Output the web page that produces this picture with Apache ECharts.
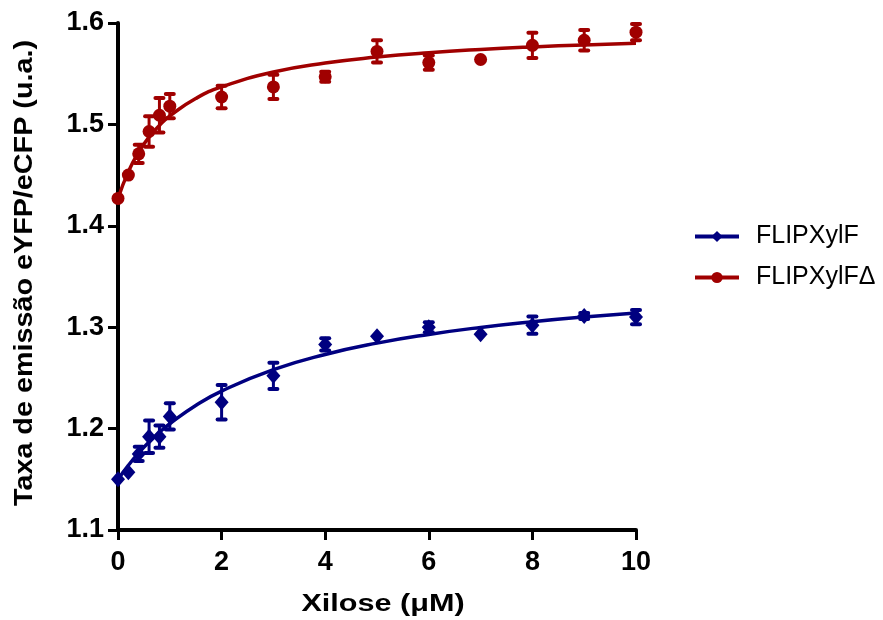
<!DOCTYPE html>
<html>
<head>
<meta charset="utf-8">
<script src="https://cdn.jsdelivr.net/npm/echarts@6/dist/echarts.min.js"></script>
<style>html,body{margin:0;padding:0;background:#fff}#c{width:883px;height:620px}</style>
</head>
<body>
<div id="c"></div>
<script>
// Measured points
var xValues = [0, 0.2, 0.4, 0.6, 0.8, 1, 2, 3, 4, 5, 6, 7, 8, 9, 10];
var blueMean = [1.150, 1.157, 1.175, 1.192, 1.192, 1.212, 1.226, 1.252, 1.283, 1.291, 1.300, 1.293, 1.302, 1.311, 1.310];
var blueErr  = [0, 0, 0.007, 0.016, 0.011, 0.013, 0.017, 0.013, 0.006, 0, 0.005, 0, 0.0085, 0.003, 0.007];
var redMean  = [1.427, 1.450, 1.471, 1.493, 1.509, 1.518, 1.527, 1.537, 1.547, 1.572, 1.561, 1.564, 1.578, 1.583, 1.591];
var redErr   = [0, 0, 0.009, 0.015, 0.017, 0.012, 0.011, 0.012, 0.005, 0.011, 0.007, 0, 0.0125, 0.010, 0.008];
// Fitted curves
var fitX    = [0, 0.2, 0.4, 0.6, 0.8, 1, 1.5, 2, 3, 4, 5, 6, 7, 8, 9, 10];
var blueFit = [1.150, 1.1638, 1.1760, 1.1867, 1.1963, 1.2048, 1.2228, 1.2370, 1.2581, 1.2731, 1.2843, 1.2929, 1.2998, 1.3054, 1.3101, 1.3140];
var redFit  = [1.427, 1.4534, 1.4728, 1.4875, 1.4990, 1.5084, 1.5255, 1.5370, 1.5516, 1.5605, 1.5664, 1.5707, 1.5739, 1.5764, 1.5784, 1.5800];
var seriesNames = ['FLIPXylF', 'FLIPXylF\u0394'];
var xTitle = 'Xilose (\u03bcM)';
var yTitle = 'Taxa de emiss\u00e3o eYFP/eCFP (u.a.)';

var BLUE = '#000080', RED = '#A00000';
var FONT = '"Liberation Sans", Arial, sans-serif';

function zip2(a, b) { return a.map(function (v, i) { return [v, b[i]]; }); }
function zip3(a, b, c) { return a.map(function (v, i) { return [v, b[i], c[i]]; }); }

function errRender(color) {
  return function (params, api) {
    var x = api.value(0), y = api.value(1), e = api.value(2);
    if (!e) return null;
    var t = api.coord([x, y + e]), b = api.coord([x, y - e]);
    var w = 4;
    var st = { stroke: color, lineWidth: 3 };
    var cap = { stroke: color, lineWidth: 4, lineCap: 'round' };
    return {
      type: 'group',
      children: [
        { type: 'line', shape: { x1: t[0], y1: t[1], x2: b[0], y2: b[1] }, style: st },
        { type: 'line', shape: { x1: t[0] - w, y1: t[1], x2: t[0] + w, y2: t[1] }, style: cap },
        { type: 'line', shape: { x1: b[0] - w, y1: b[1], x2: b[0] + w, y2: b[1] }, style: cap }
      ]
    };
  };
}

var chart = echarts.init(document.getElementById('c'));
chart.setOption({
  animation: false,
  backgroundColor: '#fff',
  grid: { left: 118, right: 247, top: 23, bottom: 90 },
  legend: {
    data: seriesNames,
    orient: 'vertical',
    left: 688, top: 219,
    itemWidth: 44, itemHeight: 14, itemGap: 16,
    lineStyle: { width: 4 },
    textStyle: { fontFamily: FONT, fontSize: 25, color: '#000', padding: [0, 0, 0, 12] }
  },
  graphic: [
    { type: 'text', x: 383, y: 605, scaleX: 1.33, silent: true,
      style: { text: xTitle, fontFamily: FONT, fontSize: 23, fontWeight: 'bold', fill: '#000',
        align: 'center', verticalAlign: 'middle' } },
    { type: 'text', x: 25, y: 273, rotation: Math.PI / 2, scaleX: 1.15, silent: true,
      style: { text: yTitle, fontFamily: FONT, fontSize: 25, fontWeight: 'bold', fill: '#000',
        align: 'center', verticalAlign: 'middle' } }
  ],
  xAxis: {
    type: 'value', min: 0, max: 10, interval: 2,
    axisLine: { show: true, lineStyle: { color: '#000', width: 4 } },
    axisTick: { show: true, length: 10, lineStyle: { color: '#000', width: 3 } },
    axisLabel: { margin: 19, fontFamily: FONT, fontSize: 27, fontWeight: 'bold', color: '#000' },
    splitLine: { show: false }
  },
  yAxis: {
    type: 'value', min: 1.1, max: 1.6, interval: 0.1,
    axisLine: { show: true, onZero: false, lineStyle: { color: '#000', width: 4 } },
    axisTick: { show: true, length: 10, lineStyle: { color: '#000', width: 3 } },
    axisLabel: { margin: 14, fontFamily: FONT, fontSize: 27, fontWeight: 'bold', color: '#000',
      formatter: function (v) { return v.toFixed(1); } },
    splitLine: { show: false }
  },
  series: [
    { name: seriesNames[0], type: 'line', data: zip2(fitX, blueFit), smooth: true,
      symbol: 'diamond', symbolSize: 14, showSymbol: false,
      lineStyle: { color: BLUE, width: 3.5 }, itemStyle: { color: BLUE }, z: 2 },
    { name: seriesNames[1], type: 'line', data: zip2(fitX, redFit), smooth: true,
      symbol: 'circle', symbolSize: 13, showSymbol: false,
      lineStyle: { color: RED, width: 3.5 }, itemStyle: { color: RED }, z: 2 },
    { type: 'custom', renderItem: errRender(BLUE), data: zip3(xValues, blueMean, blueErr), z: 3 },
    { type: 'custom', renderItem: errRender(RED), data: zip3(xValues, redMean, redErr), z: 3 },
    { type: 'scatter', data: zip2(xValues, blueMean), symbol: 'diamond', symbolSize: [14, 16],
      itemStyle: { color: BLUE, opacity: 1 }, z: 4 },
    { type: 'scatter', data: zip2(xValues, redMean), symbol: 'circle', symbolSize: 13,
      itemStyle: { color: RED, opacity: 1 }, z: 4 }
  ]
});
</script>
</body>
</html>
